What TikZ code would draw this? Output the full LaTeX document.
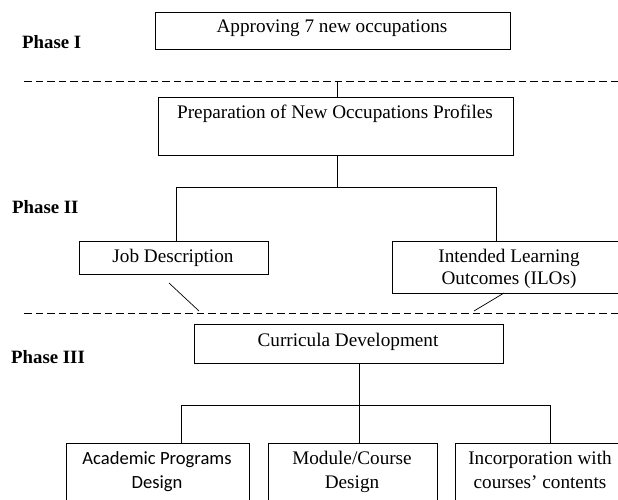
\documentclass[tikz,border=0pt]{standalone}
\usepackage{fontspec}
\setmainfont{Liberation Serif}
\newfontfamily\carlitofont{Carlito}
\begin{document}
\begin{tikzpicture}[x=1pt,y=-1pt,
 box/.style={draw=black, line width=0.9pt, inner sep=0pt, anchor=north west},
 txt/.style={anchor=base, inner sep=0pt, font=\fontsize{19.2}{23}\selectfont},
 sanstxt/.style={anchor=base, inner sep=0pt, font=\fontsize{18.6}{23}\selectfont\carlitofont},
 phase/.style={anchor=base west, inner sep=0pt, font=\fontsize{18.8}{22}\selectfont\bfseries},
 conn/.style={draw=black, line width=0.9pt},
 sep/.style={draw=black, line width=0.9pt, dash pattern=on 7.5pt off 4pt}]
\useasboundingbox (0,0) rectangle (618,500);
\clip (0,0) rectangle (618,500);

% boxes
\node[box, minimum width=355, minimum height=37] (b1) at (155,12) {};
\node[box, minimum width=355, minimum height=58] (b2) at (158,97) {};
\node[box, minimum width=189, minimum height=33] (jd) at (79,241) {};
\node[box, minimum width=235, minimum height=52] (ilo) at (392,241) {};
\node[box, minimum width=309, minimum height=39] (cd) at (194,324) {};
\node[box, minimum width=183, minimum height=80] (ba) at (66,443) {};
\node[box, minimum width=169, minimum height=80] (bb) at (268,443) {};
\node[box, minimum width=170, minimum height=80] (bc) at (455,443) {};

% texts
\node[txt] (t1) at (332,33) {Approving 7 new occupations};
\node[txt] (t2) at (335,118) {Preparation of New Occupations Profiles};
\node[txt] (t3) at (173,262) {Job Description};
\node[txt] (t4a) at (509,262) {Intended Learning};
\node[txt] (t4b) at (509,284) {Outcomes (ILOs)};
\node[txt] (t5) at (348,346) {Curricula Development};
\node[sanstxt] (t6a) at (157,464) {Academic Programs};
\node[sanstxt] (t6b) at (157,488) {Design};
\node[txt] (t7a) at (352,464) {Module/Course};
\node[txt] (t7b) at (352,488) {Design};
\node[txt] (t8a) at (540,464) {Incorporation with};
\node[txt] (t8b) at (540,488) {courses’ contents};

% phase labels
\node[phase] (p1) at (22,49) {Phase I};
\node[phase] (p2) at (12,213) {Phase II};
\node[phase] (p3) at (11,363) {Phase III};

% dashed separators
\coordinate (s1a) at (24,81); \coordinate (s1b) at (618,81);
\coordinate (s2a) at (24,313); \coordinate (s2b) at (618,313);
\draw[sep] (s1a) -- (s1b);
\draw[sep] (s2a) -- (s2b);

% connectors
\coordinate (d1) at (337,81);
\draw[conn] (d1) -- (d1 |- b2.north);
\coordinate (h2) at (337,187);
\coordinate (hl) at (176,187);
\coordinate (hr) at (496,187);
\draw[conn] (h2 |- b2.south) -- (h2);
\draw[conn] (hl |- jd.north) -- (hl) -- (hr) -- (hr |- ilo.north);
\coordinate (h3) at (359,405);
\coordinate (l3) at (181,405);
\coordinate (r3) at (550,405);
\draw[conn] (h3 |- cd.south) -- (h3 |- bb.north);
\draw[conn] (l3 |- ba.north) -- (l3) -- (r3) -- (r3 |- bc.north);

% diagonal ticks
\coordinate (ja) at (169,283); \coordinate (jb) at (199,311);
\coordinate (ia) at (504,293); \coordinate (ib) at (474,311);
\draw[line width=0.7pt] (ja) -- (jb);
\draw[line width=0.7pt] (ia) -- (ib);
\end{tikzpicture}
\end{document}
